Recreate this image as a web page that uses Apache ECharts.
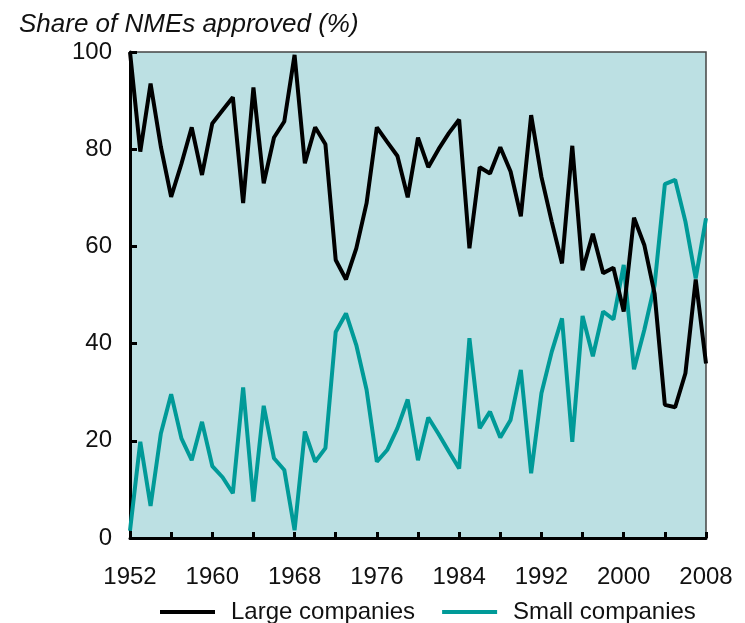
<!DOCTYPE html>
<html>
<head>
<meta charset="utf-8">
<script src="https://cdn.jsdelivr.net/npm/echarts@6/dist/echarts.min.js"></script>
<style>
  html, body { margin: 0; padding: 0; background: #fff; }
  #chart { width: 745px; height: 623px; }
</style>
</head>
<body>
<div id="chart"></div>
<script>
// years 1952..2008
var years = [];
for (var y = 1952; y <= 2008; y++) years.push(y);

// share of NMEs approved (%)
var largeCompanies = [
  100, 79.5, 93.5, 80.5, 70.2, 77, 84.5, 74.7, 85.3, 88,
  90.7, 68.9, 92.7, 73, 82.4, 85.7, 99.4, 77.1, 84.5, 81,
  57.2, 53.2, 59.6, 68.9, 84.5, 81.5, 78.6, 70.1, 82.4, 76.3,
  80, 83.3, 86.1, 59.6, 76.3, 75, 80.4, 75.4, 66.2, 87,
  74.3, 65.1, 56.5, 80.7, 55.1, 62.6, 54.5, 55.6, 46.6, 65.9,
  60.3, 50.3, 27.4, 26.9, 33.9, 53.2, 35.9
];
var smallCompanies = [
  1.5, 19.8, 6.6, 21.5, 29.6, 20.5, 16, 23.9, 14.8, 12.5,
  9.2, 31, 7.5, 27.2, 16.4, 14, 1.6, 21.9, 15.7, 18.5,
  42.4, 46.2, 39.7, 30.5, 15.7, 18.1, 22.6, 28.5, 16, 24.8,
  21.4, 17.8, 14.3, 41.1, 22.6, 26, 20.7, 24.3, 34.6, 13.3,
  29.8, 38.3, 45.2, 19.8, 45.7, 37.4, 46.6, 45, 56.2, 34.7,
  42.8, 52, 72.8, 73.7, 65.1, 53.4, 65.8
];
var yTicks = [0, 20, 40, 60, 80, 100];

function pairs(vals) {
  return years.map(function (yr, i) { return [yr, vals[i]]; });
}

var font = "'Liberation Sans', Arial, sans-serif";
var myChart = echarts.init(document.getElementById("chart"));
var option = {
  animation: false,
  title: {
    text: "Share of NMEs approved (%)",
    left: 14,
    top: 7,
    textStyle: { fontFamily: font, fontStyle: "italic", fontWeight: "normal", fontSize: 26, color: "#111" }
  },
  legend: {
    left: 155,
    top: 595,
    icon: "rect",
    itemWidth: 55,
    itemHeight: 4,
    itemGap: 27,
    textStyle: { fontFamily: font, fontSize: 24, color: "#111", padding: [0, 0, 0, 11] },
    data: ["Large companies", "Small companies"]
  },
  grid: {
    left: 130,
    right: 39,
    top: 52,
    bottom: 85,
    show: true,
    backgroundColor: "#bce0e3",
    borderColor: "#444",
    borderWidth: 1.5
  },
  xAxis: {
    type: "value",
    min: 1952,
    max: 2008,
    interval: 4,
    axisLine: { show: true, onZero: false, lineStyle: { color: "#000", width: 3 } },
    axisTick: { show: true, inside: true, length: 6, lineStyle: { color: "#000", width: 3 } },
    axisLabel: {
      margin: 27,
      fontFamily: font,
      fontSize: 24,
      color: "#111",
      formatter: function (v) { return (v - 1952) % 8 === 0 ? String(v) : ""; }
    },
    splitLine: { show: false }
  },
  yAxis: {
    type: "value",
    min: yTicks[0],
    max: yTicks[yTicks.length - 1],
    interval: 20,
    axisLine: { show: true, lineStyle: { color: "#000", width: 3 } },
    axisTick: { show: true, inside: true, length: 7, lineStyle: { color: "#000", width: 3 } },
    axisLabel: { margin: 18, fontFamily: font, fontSize: 24, color: "#111" },
    splitLine: { show: false }
  },
  series: [
    {
      name: "Large companies",
      type: "line",
      data: pairs(largeCompanies),
      showSymbol: false,
      z: 3,
      lineStyle: { color: "#000", width: 4 },
      itemStyle: { color: "#000" }
    },
    {
      name: "Small companies",
      type: "line",
      data: pairs(smallCompanies),
      showSymbol: false,
      z: 2,
      lineStyle: { color: "#009a98", width: 4 },
      itemStyle: { color: "#009a98" }
    }
  ]
};
myChart.setOption(option);
</script>
</body>
</html>
